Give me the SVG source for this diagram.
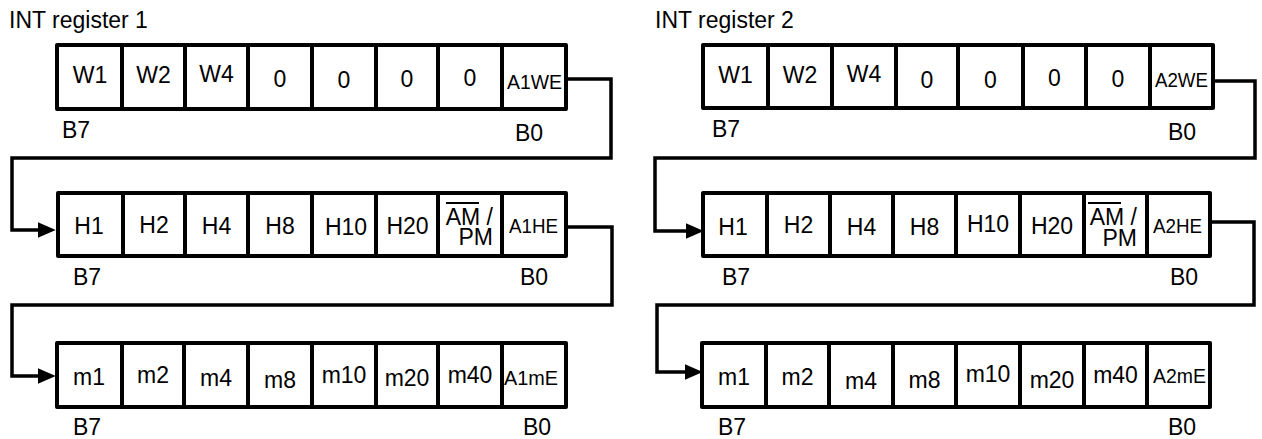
<svg xmlns="http://www.w3.org/2000/svg" width="1262" height="439" viewBox="0 0 1262 439">
<defs>
<style>
.box{fill:#fff;stroke:#000;stroke-width:4;stroke-linejoin:round}
.div{stroke:#000;stroke-width:4}
.t{font-family:"Liberation Sans",Arial,sans-serif;font-size:23px;fill:#000}
.c{text-anchor:middle}
.s{font-size:21px}
.conn{fill:none;stroke:#000;stroke-width:3.5;stroke-linejoin:miter}
.ol{stroke:#000;stroke-width:2}
</style>
<marker id="arr" markerUnits="userSpaceOnUse" markerWidth="18" markerHeight="16" viewBox="0 0 16 14" refX="10" refY="7" orient="auto">
<path d="M0,0 L16,7 L0,14 z" fill="#000"/>
</marker>
</defs>
<rect width="1262" height="439" fill="#fff"/>

<text class="t" x="9" y="28">INT register 1</text>
<text class="t" x="655" y="28">INT register 2</text>

<g id="connectors">
<path class="conn" d="M566,79 H611 V158 H12 V230 H49" marker-end="url(#arr)"/>
<path class="conn" d="M566,227 H612 V305 H12 V376 H49" marker-end="url(#arr)"/>
<path class="conn" d="M1213,81 H1255 V158 H655 V231 H697" marker-end="url(#arr)"/>
<path class="conn" d="M1210,222 H1254 V305 H657 V372 H696" marker-end="url(#arr)"/>
</g>

<!-- Register 1, W row -->
<g id="r1-week">
<rect class="box" x="57" y="45" width="509" height="64"/>
<path class="div" d="M122,45V109M185,45V109M248,45V109M312,45V109M376,45V109M438,45V109M502,45V109"/>
<text class="t c" x="90" y="83">W1</text>
<text class="t c" x="153.5" y="83">W2</text>
<text class="t c" x="216.5" y="82">W4</text>
<text class="t c" x="280" y="87">0</text>
<text class="t c" x="344" y="88">0</text>
<text class="t c" x="407" y="87">0</text>
<text class="t c" x="470" y="86">0</text>
<text class="t s" x="507" y="89" textLength="55" lengthAdjust="spacingAndGlyphs">A1WE</text>
<text class="t" x="62" y="138">B7</text>
<text class="t" x="515" y="141">B0</text>
</g>

<!-- Register 1, H row -->
<g id="r1-hour">
<rect class="box" x="58" y="193" width="508" height="63"/>
<path class="div" d="M123,193V256M185,193V256M248,193V256M312,193V256M376,193V256M438,193V256M502,193V256"/>
<text class="t c" x="89" y="234">H1</text>
<text class="t c" x="154" y="233">H2</text>
<text class="t c" x="216.5" y="234">H4</text>
<text class="t c" x="280" y="234">H8</text>
<text class="t c" x="346" y="235">H10</text>
<text class="t c" x="407.5" y="234">H20</text>
<line class="ol" x1="446" y1="203" x2="479" y2="203"/>
<text class="t" text-anchor="end"><tspan x="493" y="225">AM /</tspan><tspan x="493" y="245">PM</tspan></text>
<text class="t s" x="509" y="233" textLength="49" lengthAdjust="spacingAndGlyphs">A1HE</text>
<text class="t" x="73" y="285">B7</text>
<text class="t" x="520" y="285">B0</text>
</g>

<!-- Register 1, m row -->
<g id="r1-min">
<rect class="box" x="57" y="343" width="509" height="64"/>
<path class="div" d="M122,343V407M184,343V407M248,343V407M312,343V407M376,343V407M438,343V407M502,343V407"/>
<text class="t c" x="89" y="385">m1</text>
<text class="t c" x="153" y="383">m2</text>
<text class="t c" x="216" y="386">m4</text>
<text class="t c" x="280" y="388">m8</text>
<text class="t c" x="344" y="383">m10</text>
<text class="t c" x="407" y="386">m20</text>
<text class="t c" x="470" y="383">m40</text>
<text class="t s" x="504" y="385" textLength="54" lengthAdjust="spacingAndGlyphs">A1mE</text>
<text class="t" x="73" y="435">B7</text>
<text class="t" x="523" y="435">B0</text>
</g>

<!-- Register 2, W row -->
<g id="r2-week">
<rect class="box" x="703" y="45" width="510" height="63"/>
<path class="div" d="M768,45V108M832,45V108M896,45V108M958,45V108M1023,45V108M1086,45V108M1150,45V108"/>
<text class="t c" x="735.5" y="83">W1</text>
<text class="t c" x="800" y="83">W2</text>
<text class="t c" x="864" y="82">W4</text>
<text class="t c" x="927" y="88">0</text>
<text class="t c" x="990.5" y="88">0</text>
<text class="t c" x="1054.5" y="86">0</text>
<text class="t c" x="1118" y="87">0</text>
<text class="t s" x="1155" y="87" textLength="53" lengthAdjust="spacingAndGlyphs">A2WE</text>
<text class="t" x="712" y="137">B7</text>
<text class="t" x="1168" y="140">B0</text>
</g>

<!-- Register 2, H row -->
<g id="r2-hour">
<rect class="box" x="703" y="193" width="507" height="63"/>
<path class="div" d="M767,193V256M830,193V256M893,193V256M956,193V256M1020,193V256M1084,193V256M1147,193V256"/>
<text class="t c" x="733" y="235">H1</text>
<text class="t c" x="798.5" y="233">H2</text>
<text class="t c" x="861.5" y="235">H4</text>
<text class="t c" x="924.5" y="235">H8</text>
<text class="t c" x="988" y="232">H10</text>
<text class="t c" x="1052" y="234">H20</text>
<line class="ol" x1="1088" y1="203" x2="1121" y2="203"/>
<text class="t" text-anchor="end"><tspan x="1137" y="225">AM /</tspan><tspan x="1137" y="246">PM</tspan></text>
<text class="t s" x="1153" y="233" textLength="49" lengthAdjust="spacingAndGlyphs">A2HE</text>
<text class="t" x="722" y="285">B7</text>
<text class="t" x="1170" y="285">B0</text>
</g>

<!-- Register 2, m row -->
<g id="r2-min">
<rect class="box" x="702" y="343" width="508" height="64"/>
<path class="div" d="M766,343V407M829,343V407M893,343V407M956,343V407M1020,343V407M1084,343V407M1147,343V407"/>
<text class="t c" x="734" y="385">m1</text>
<text class="t c" x="797.5" y="385">m2</text>
<text class="t c" x="861" y="389">m4</text>
<text class="t c" x="924.5" y="388">m8</text>
<text class="t c" x="988" y="382">m10</text>
<text class="t c" x="1052" y="388">m20</text>
<text class="t c" x="1115.5" y="383">m40</text>
<text class="t s" x="1153" y="383" textLength="53" lengthAdjust="spacingAndGlyphs">A2mE</text>
<text class="t" x="718" y="435">B7</text>
<text class="t" x="1168" y="435">B0</text>
</g>
</svg>
